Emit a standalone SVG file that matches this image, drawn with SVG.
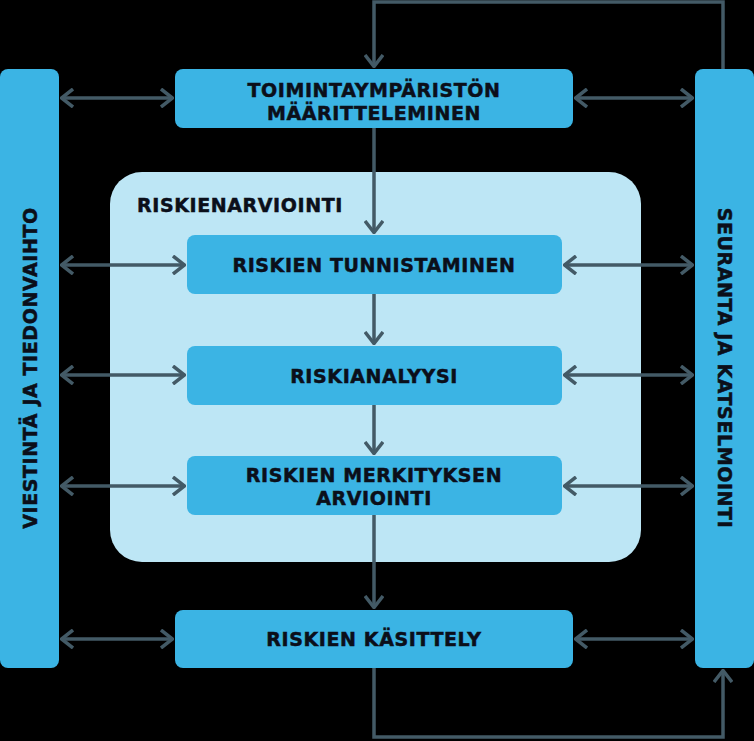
<svg xmlns="http://www.w3.org/2000/svg" width="754" height="741" viewBox="0 0 754 741">
<defs>
<style>
.node{fill:#3bb4e4;}
.t{font-family:"DejaVu Sans","Verdana",sans-serif;font-weight:bold;font-size:19px;letter-spacing:0.6px;fill:#0b0f1a;stroke:#0b0f1a;stroke-width:0.5px;text-anchor:middle;}
.c{fill:none;stroke:#435a66;stroke-width:3.5;}
</style>
<marker id="ah" viewBox="0 0 14 20" refX="13" refY="10" markerWidth="14" markerHeight="20" markerUnits="userSpaceOnUse" orient="auto-start-reverse">
<path d="M1,1 L12.5,10 L1,19" fill="none" stroke="#435a66" stroke-width="3.5"/>
</marker>
</defs>
<rect width="754" height="741" fill="#000"/>
<g id="riskienarviointi">
<rect x="110" y="172" width="531" height="390" rx="32" fill="#bde6f5"/>
<text class="t" x="137" y="212" style="text-anchor:start">RISKIENARVIOINTI</text>
</g>
<g id="viestinta">
<rect class="node" x="0" y="69" width="59" height="599" rx="8"/>
<text class="t" transform="translate(37,368) rotate(-90)">VIESTINTÄ JA TIEDONVAIHTO</text>
</g>
<g id="seuranta">
<rect class="node" x="695" y="69" width="59" height="599" rx="8"/>
<text class="t" transform="translate(718,368) rotate(90)">SEURANTA JA KATSELMOINTI</text>
</g>
<g id="toimintaymparisto">
<rect class="node" x="175" y="69" width="398" height="59" rx="8"/>
<text class="t" x="374" y="96.5">TOIMINTAYMPÄRISTÖN</text>
<text class="t" x="374" y="119.5">MÄÄRITTELEMINEN</text>
</g>
<g id="tunnistaminen">
<rect class="node" x="187" y="235" width="375" height="59" rx="8"/>
<text class="t" x="374" y="272">RISKIEN TUNNISTAMINEN</text>
</g>
<g id="analyysi">
<rect class="node" x="187" y="346" width="375" height="59" rx="8"/>
<text class="t" x="374" y="383">RISKIANALYYSI</text>
</g>
<g id="merkitys">
<rect class="node" x="187" y="456" width="375" height="59" rx="8"/>
<text class="t" x="374" y="482">RISKIEN MERKITYKSEN</text>
<text class="t" x="374" y="505">ARVIOINTI</text>
</g>
<g id="kasittely">
<rect class="node" x="175" y="610" width="398" height="58" rx="8"/>
<text class="t" x="374" y="646">RISKIEN KÄSITTELY</text>
</g>
<g id="connectors">
<path class="c" d="M723,69 V2 H374 V67" marker-end="url(#ah)"/>
<path class="c" d="M374,128 V233" marker-end="url(#ah)"/>
<path class="c" d="M374,294 V344" marker-end="url(#ah)"/>
<path class="c" d="M374,405 V454" marker-end="url(#ah)"/>
<path class="c" d="M374,515 V608" marker-end="url(#ah)"/>
<path class="c" d="M374,668 V737 H723 V670" marker-end="url(#ah)"/>
<path class="c" d="M61,98 H173" marker-start="url(#ah)" marker-end="url(#ah)"/>
<path class="c" d="M575,98 H693" marker-start="url(#ah)" marker-end="url(#ah)"/>
<path class="c" d="M61,265 H185" marker-start="url(#ah)" marker-end="url(#ah)"/>
<path class="c" d="M564,265 H693" marker-start="url(#ah)" marker-end="url(#ah)"/>
<path class="c" d="M61,375 H185" marker-start="url(#ah)" marker-end="url(#ah)"/>
<path class="c" d="M564,375 H693" marker-start="url(#ah)" marker-end="url(#ah)"/>
<path class="c" d="M61,486 H185" marker-start="url(#ah)" marker-end="url(#ah)"/>
<path class="c" d="M564,486 H693" marker-start="url(#ah)" marker-end="url(#ah)"/>
<path class="c" d="M61,639 H173" marker-start="url(#ah)" marker-end="url(#ah)"/>
<path class="c" d="M575,639 H693" marker-start="url(#ah)" marker-end="url(#ah)"/>
</g>
</svg>
